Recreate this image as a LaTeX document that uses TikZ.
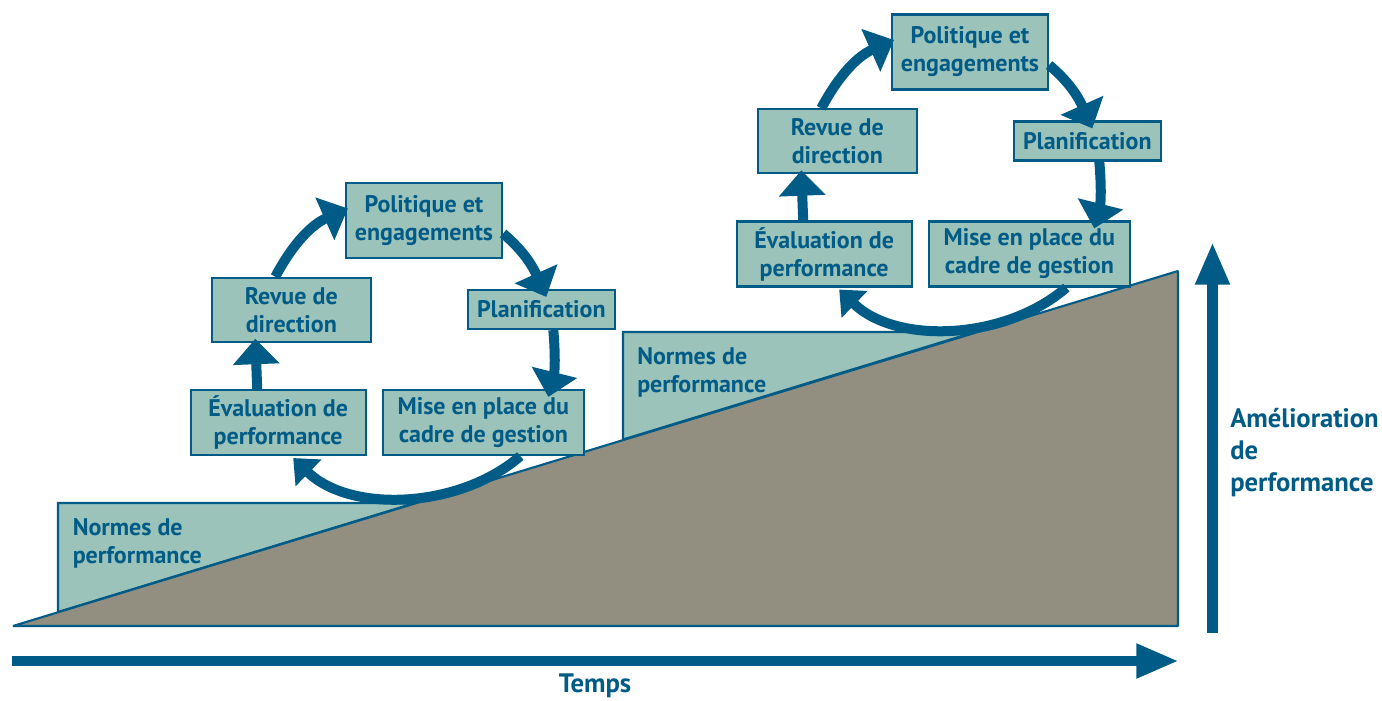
\documentclass[tikz,border=0pt]{standalone}
\usepackage{fontspec}
\setmainfont{PT Sans}
\usetikzlibrary{arrows.meta,calc}
\definecolor{dblue}{HTML}{005B86}
\definecolor{tealf}{HTML}{9BC3BA}
\definecolor{grayf}{HTML}{938F80}
\newcommand\txtfont{\bfseries\fontsize{18}{21}\selectfont}
\newcommand\bigfont{\bfseries\fontsize{20}{24}\selectfont}
\newcommand\mycycle[1]{%
  \node[box, minimum width=156*0.75pt, minimum height=75*0.75pt] (#1pol) at (424,220.5) {Politique et\\engagements};
  \node[box, minimum width=147*0.75pt, minimum height=39*0.75pt] (#1plan) at (541.3,309.5) {Planification};
  \node[box, minimum width=201*0.75pt, minimum height=65*0.75pt] (#1mise) at (483.3,422.5) {Mise en place du\\cadre de gestion};
  \node[box, minimum width=175*0.75pt, minimum height=65*0.75pt] (#1eval) at (278.2,422.5) {Évaluation de\\performance};
  \node[box, minimum width=159*0.75pt, minimum height=64*0.75pt] (#1rev) at (291.3,309.8) {Revue de\\direction};
  \draw[cyc] ($(#1rev.north)+(-16,0)$) to[out=62,in=204] ($(#1pol.west)+(3,-12)$);
  \draw[cyc] ($(#1pol.east)+(0,13)$) to[out=-40,in=114] ($(#1plan.north)+(5,8)$);
  \draw[cyc] ($(#1plan.south)+(12,0)$) to[out=-85,in=76] ($(#1mise.north)+(65,8)$);
  \draw[cyc, -{Triangle[length=16pt,width=27pt]}] ($(#1mise.south)+(37,0)$) to[out=-139,in=-44,looseness=0.9] ($(#1eval.south)+(15,2)$);
  \draw[cyc] ($(#1eval.north)+(-21,0)$) -- ($(#1rev.south)+(-36,-4)$);
}
\begin{document}
\begin{tikzpicture}[x=0.75pt,y=-0.75pt,
  box/.style={draw=dblue, fill=tealf, line width=1.6pt, text=dblue, font=\txtfont, align=center, inner sep=0pt},
  cyc/.style={draw=dblue, line width=7.5pt, -{Triangle[length=19pt,width=34pt]}},
  lbl/.style={text=dblue, font=\txtfont, inner sep=0pt},
  axis/.style={draw=dblue, line width=7.9pt, -{Triangle[length=32pt,width=24pt]}},
  edge/.style={draw=dblue, line width=1.6pt}]
\useasboundingbox (0,0) rectangle (1382,700);
% performance standards (behind the ramp)
\draw[edge, fill=tealf] (58,503) -- (414.9,503) -- (58,612) -- cycle;
\draw[edge, fill=tealf] (623,332) -- (974.9,332) -- (623,439.5) -- cycle;
% ramp
\draw[edge, fill=grayf, line join=bevel] (13,626) -- (1178,626) -- (1178,271) -- cycle;
\node[lbl, anchor=base west] (n1) at (72.5,535) {\begin{tabular}[t]{@{}l@{}}Normes de\\performance\end{tabular}};
\node[lbl, anchor=base west] (n2) at (637,364) {\begin{tabular}[t]{@{}l@{}}Normes de\\performance\end{tabular}};
% cycles
\mycycle{L}
\begin{scope}[shift={(546,-168.5)}]
\mycycle{R}
\end{scope}
% axes
\coordinate (t0) at (12,661);
\coordinate (t1) at (1179,661);
\draw[axis] (t0) -- (t1);
\node[lbl, font=\bigfont, anchor=base] (temps) at (595,692) {Temps};
\coordinate (v0) at (1212.5,633);
\coordinate (v1) at (1212.5,242);
\draw[axis] (v0) -- (v1);
\node[lbl, font=\bigfont, anchor=base west] (amel) at (1230,427) {\begin{tabular}[t]{@{}l@{}}Amélioration\\de\\performance\end{tabular}};
\end{tikzpicture}
\end{document}
